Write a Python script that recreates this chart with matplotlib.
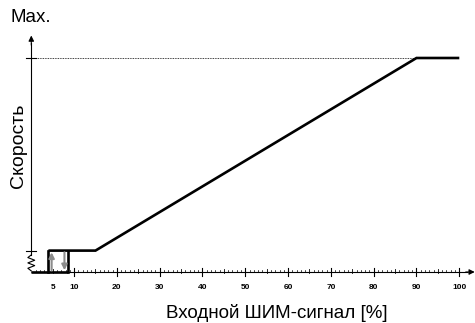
import matplotlib
matplotlib.use("Agg")
import matplotlib.pyplot as plt
import numpy as np

# ---- data ----
curve_x = [4, 15, 90, 100]          # PWM input [%]
curve_y = [10, 10, 100, 100]        # speed [% of Max]
hyst_on = 4                          # switch-on threshold [%]
hyst_off = 8.5                       # switch-off threshold [%]
min_speed = 10
max_speed = 100
tick_labels = [5, 10, 20, 30, 40, 50, 60, 70, 80, 90, 100]

plt.rcParams['font.family'] = ['Liberation Sans', 'DejaVu Sans']

fig = plt.figure(figsize=(4.75, 3.23), dpi=100)
ax = fig.add_axes([0, 0, 1, 1])
ax.set_xlim(-7.31, 103.67)
ax.set_ylim(-23.83, 127.1)
ax.axis('off')

k = 'black'
# x axis with arrow
ax.plot([0, 102], [0, 0], color=k, lw=0.8, solid_capstyle='butt')
ax.annotate('', xy=(103.6, 0), xytext=(101.5, 0),
            arrowprops=dict(arrowstyle='-|>', color=k, lw=0.8,
                            mutation_scale=8, shrinkA=0, shrinkB=0))
# y axis (above spring) with arrow
ax.plot([0, 0], [min_speed - 2, 107], color=k, lw=0.8)
ax.annotate('', xy=(0, 110.5), xytext=(0, 106),
            arrowprops=dict(arrowstyle='-|>', color=k, lw=0.8,
                            mutation_scale=8, shrinkA=0, shrinkB=0))
# spring zig-zag on y axis
zz_y = np.linspace(min_speed - 2, 0.5, 7)
zz_x = [0, -0.8, 0.8, -0.8, 0.8, -0.8, 0]
ax.plot(zz_x, zz_y, color=k, lw=0.8)
# y ticks
for yv in (min_speed, max_speed):
    ax.plot([-1.2, 1.2], [yv, yv], color=k, lw=0.8)

# x ticks
for xv in range(1, 101):
    if xv % 10 == 0:
        ax.plot([xv, xv], [-1.8, 1.8], color=k, lw=0.8)
    elif xv % 5 == 0:
        ax.plot([xv, xv], [-0.6, 1.4], color=k, lw=0.6)
    else:
        ax.plot([xv, xv], [0, 0.9], color=k, lw=0.5)
for t in tick_labels:
    ax.text(t, -7.2, str(t), ha='center', va='center', fontsize=6,
            fontweight='bold')

# dotted max line
ax.plot([0, curve_x[2]], [max_speed, max_speed], color=k, lw=0.6,
        linestyle=(0, (1, 1)))

# characteristic curve
lw = 1.9
ax.plot(curve_x, curve_y, color=k, lw=lw, solid_capstyle='butt',
        solid_joinstyle='miter')
ax.plot([0, hyst_off], [0, 0], color=k, lw=lw, solid_capstyle='butt')
ax.plot([hyst_on, hyst_on], [0, min_speed], color=k, lw=lw,
        solid_capstyle='projecting')
ax.plot([hyst_off, hyst_off], [0, min_speed], color=k, lw=lw,
        solid_capstyle='projecting')

# hysteresis arrows
g = '#8c8c8c'
ax.annotate('', xy=(hyst_on + 0.75, min_speed - 0.8), xytext=(hyst_on + 0.75, 0.8),
            arrowprops=dict(arrowstyle='-|>', color=g, lw=1.5,
                            mutation_scale=8, shrinkA=0, shrinkB=0))
ax.annotate('', xy=(hyst_off - 0.75, 0.8), xytext=(hyst_off - 0.75, min_speed - 0.8),
            arrowprops=dict(arrowstyle='-|>', color=g, lw=1.5,
                            mutation_scale=8, shrinkA=0, shrinkB=0))

# labels
fig.text(10 / 475, 1 - 18 / 323, 'Max.', fontsize=13.5, ha='left', va='center')
fig.text(18 / 475, 1 - 146 / 323, 'Скорость', fontsize=14, rotation=90,
         ha='center', va='center')
fig.text(277 / 475, 1 - 313 / 323, 'Входной ШИМ-сигнал [%]', fontsize=13.5,
         ha='center', va='center')

fig.savefig('out.png', dpi=100)
